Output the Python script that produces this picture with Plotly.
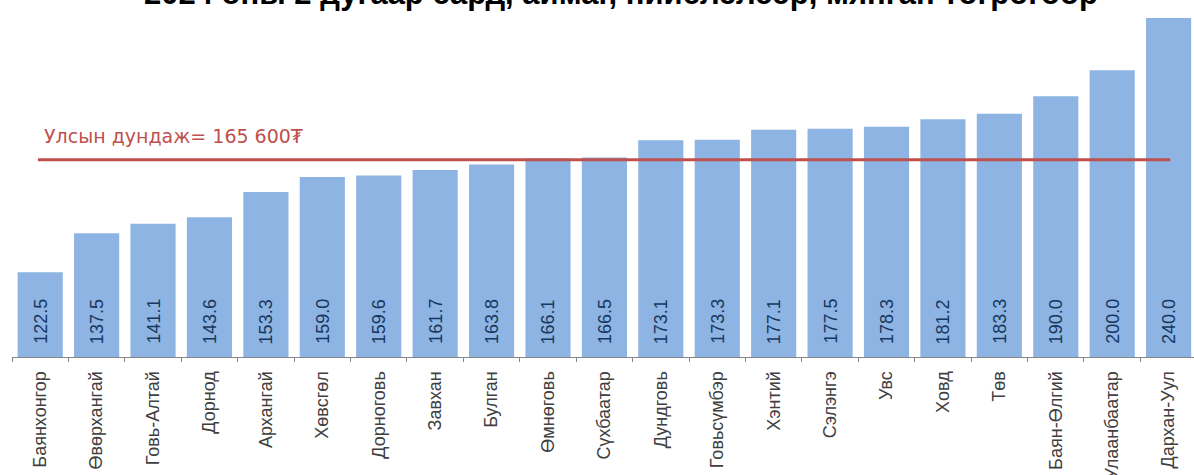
import plotly.graph_objects as go

categories = ["Баянхонгор", "Өвөрхангай", "Говь-Алтай", "Дорнод", "Архангай", "Хөвсгөл",
              "Дорноговь", "Завхан", "Булган", "Өмнөговь", "Сүхбаатар", "Дундговь",
              "Говьсүмбэр", "Хэнтий", "Сэлэнгэ", "Увс", "Ховд", "Төв", "Баян-Өлгий",
              "Улаанбаатар", "Дархан-Уул"]
values = [122.5, 137.5, 141.1, 143.6, 153.3, 159.0, 159.6, 161.7, 163.8, 166.1, 166.5,
          173.1, 173.3, 177.1, 177.5, 178.3, 181.2, 183.3, 190.0, 200.0, 240.0]
national_avg = 165.6
avg_label = "Улсын дундаж= 165 600₮"
title_text = "2024 оны 2 дугаар сард, аймаг, нийслэлээр, мянган төгрөгөөр"

axis_min = 90
axis_max = 220

fig = go.Figure()
fig.add_trace(go.Bar(
    x=categories,
    y=[v - axis_min for v in values],
    base=axis_min,
    marker=dict(color="#8DB4E2", line=dict(width=0)),
    width=0.8,
    hovertext=[f"{v:.1f}" for v in values], hoverinfo="x+text",
))

# value labels inside the bars, near the base
for cat, v in zip(categories, values):
    fig.add_annotation(xref="x", yref="y", x=cat, y=axis_min, text=f"{v:.1f}",
                       showarrow=False, textangle=-90, xanchor="center", yanchor="bottom",
                       yshift=11,
                       font=dict(family="Liberation Sans, Arial, sans-serif", size=18,
                                 color="#17375E"))

fig.add_shape(type="line", xref="x", yref="y", x0=-0.04, x1=20.03,
              y0=national_avg, y1=national_avg,
              line=dict(color="#C0504D", width=3))

fig.add_annotation(xref="x", yref="y", x=0.03, y=national_avg + 9.0,
                   text=avg_label, showarrow=False, xanchor="left", yanchor="middle",
                   font=dict(family="DejaVu Sans, Verdana, sans-serif", size=19, color="#C0504D"))

fig.add_annotation(xref="paper", yref="paper", x=0.515, y=1.072,
                   text="<b>" + title_text + "</b>", showarrow=False,
                   xanchor="center", yanchor="middle",
                   font=dict(family="Liberation Sans, Arial, sans-serif", size=31, color="#000000"))

fig.update_layout(
    width=1194, height=475,
    margin=dict(l=12, r=0, t=18, b=118, autoexpand=False),
    paper_bgcolor="white", plot_bgcolor="white",
    showlegend=False, bargap=0.2,
    xaxis=dict(type="category", range=[-0.5, 20.45], showline=True, linecolor="#868686",
               linewidth=1, ticks="outside", tickson="boundaries", ticklen=4,
               tickcolor="#868686", tickangle=-90, automargin=False, showgrid=False,
               ticklabelstandoff=6,
               tickfont=dict(family="Liberation Sans, Arial, sans-serif", size=18, color="#404040")),
    yaxis=dict(range=[axis_min, axis_max], visible=False, showgrid=False, automargin=False),
)

fig.write_html("out.html", config={"displayModeBar": False},
               post_script="document.body.style.margin='0';document.body.style.overflow='hidden';")
